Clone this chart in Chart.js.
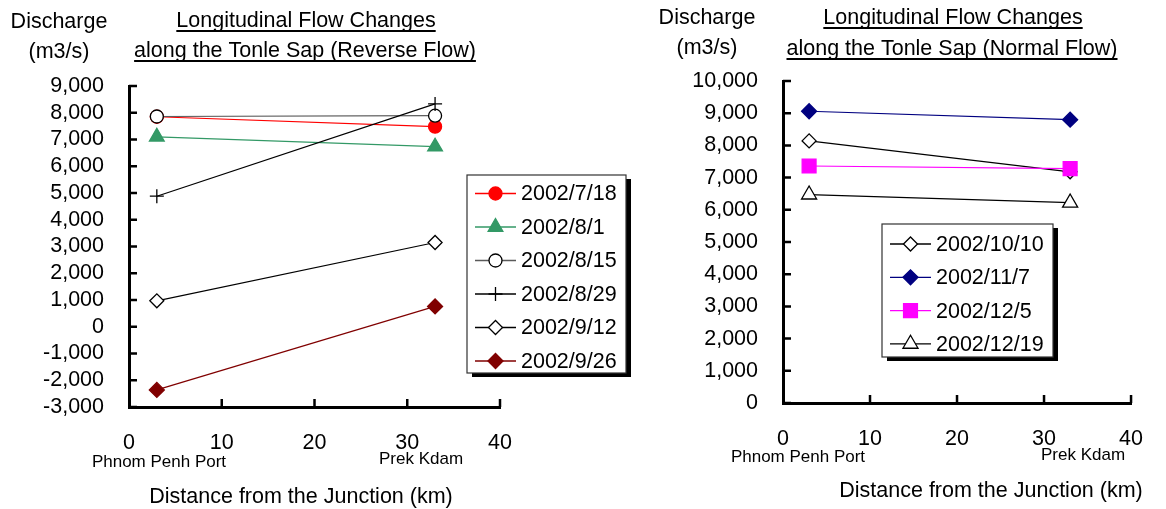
<!DOCTYPE html>
<html>
<head>
<meta charset="utf-8">
<script src="https://cdn.jsdelivr.net/npm/chart.js@4.4.1/dist/chart.umd.min.js"></script>
<style>
  body { margin: 0; background: #fff; width: 1166px; height: 509px; overflow: hidden; position: relative; }
  .panel { position: absolute; top: 0; height: 509px; }
  #leftPanel { left: 0; width: 640px; }
  #rightPanel { left: 640px; width: 526px; }
</style>
</head>
<body>
<div class="panel" id="leftPanel"><canvas id="reverseChart"></canvas></div>
<div class="panel" id="rightPanel"><canvas id="normalChart"></canvas></div>
<script>
// distance from the junction (km) of the two gauging stations
const distances = [3, 33];
const stationNames = ['Phnom Penh Port', 'Prek Kdam'];
const distanceTicks = [0, 10, 20, 30, 40];

// reverse flow season, discharge (m3/s)
const reverseDates = ['2002/7/18', '2002/8/1', '2002/8/15', '2002/8/29', '2002/9/12', '2002/9/26'];
const q0718 = [7850, 7480];
const q0801 = [7100, 6730];
const q0815 = [7860, 7890];
const q0829 = [4880, 8330];
const q0912 = [970, 3150];
const q0926 = [-2360, 760];
const reverseTicks = [-3000, -2000, -1000, 0, 1000, 2000, 3000, 4000, 5000, 6000, 7000, 8000, 9000];

// normal flow season, discharge (m3/s)
const normalDates = ['2002/10/10', '2002/11/7', '2002/12/5', '2002/12/19'];
const q1010 = [8140, 7180];
const q1107 = [9060, 8800];
const q1205 = [7360, 7280];
const q1219 = [6470, 6220];
const normalTicks = [0, 1000, 2000, 3000, 4000, 5000, 6000, 7000, 8000, 9000, 10000];

const FONT = 'Liberation Sans, Arial, Helvetica, sans-serif';

function series(label, values, color, style, radius, fill, lineColor, idx) {
  return {
    label: label,
    data: values.map((v, i) => ({ x: distances[i], y: v })),
    borderColor: lineColor || color,
    borderWidth: 1.2,
    pointStyle: style,
    pointRadius: radius,
    pointHoverRadius: radius,
    pointBackgroundColor: fill,
    pointBorderColor: color,
    pointBorderWidth: 1.3,
    order: -idx   // later series sit on top
  };
}

// underlined two-line title, y caption, station names, x caption
function textPlugin(cfg) {
  return {
    id: 'labels',
    afterDraw(chart) {
      const ctx = chart.ctx;
      ctx.save();
      ctx.fillStyle = '#000';
      ctx.textAlign = 'center';
      ctx.textBaseline = 'middle';
      ctx.font = '21.5px ' + FONT;
      ctx.fillText('Discharge', cfg.yCap[0], cfg.yCap[1]);
      ctx.fillText('(m3/s)', cfg.yCap[0], cfg.yCap[1] + 30);
      cfg.title.forEach((t, i) => {
        const x = cfg.titlePos[i][0], y = cfg.titlePos[i][1];
        ctx.fillText(t, x, y);
        const w = ctx.measureText(t).width;
        ctx.fillRect(x - w / 2, y + 9, w, 2);
      });
      ctx.fillText('Distance from the Junction (km)', cfg.xCap[0], cfg.xCap[1]);
      ctx.font = '17px ' + FONT;
      stationNames.forEach((s, i) => ctx.fillText(s, cfg.stations[i][0], cfg.stations[i][1]));

      // inward tick marks
      const xs = chart.scales.x, ys = chart.scales.y, area = chart.chartArea;
      ctx.strokeStyle = '#000';
      ctx.lineWidth = 2.5;
      ctx.beginPath();
      cfg.yTicks.forEach(v => {
        const py = ys.getPixelForValue(v);
        ctx.moveTo(area.left, py);
        ctx.lineTo(area.left + 8, py);
      });
      distanceTicks.slice(1).forEach(v => {
        const px = xs.getPixelForValue(v);
        ctx.moveTo(px, area.bottom);
        ctx.lineTo(px, area.bottom - 8);
      });
      ctx.stroke();

      // legend with drop shadow
      const b = cfg.legendBox;
      ctx.fillStyle = '#000';
      ctx.fillRect(b[0] + 5, b[1] + 4, b[2], b[3]);
      ctx.fillStyle = '#fff';
      ctx.fillRect(b[0], b[1], b[2], b[3]);
      ctx.lineWidth = 1.2;
      ctx.strokeStyle = '#333';
      ctx.strokeRect(b[0], b[1], b[2], b[3]);
      ctx.textAlign = 'left';
      ctx.font = '21.5px ' + FONT;
      chart.data.datasets.forEach((ds, i) => {
        const y = cfg.legendRow0 + i * cfg.legendStep;
        ctx.strokeStyle = ds.borderColor;
        ctx.lineWidth = 1.3;
        ctx.beginPath();
        ctx.moveTo(b[0] + cfg.legendLine[0], y);
        ctx.lineTo(b[0] + cfg.legendLine[1], y);
        ctx.stroke();
        ctx.fillStyle = ds.pointBackgroundColor;
        ctx.strokeStyle = ds.pointBorderColor;
        ctx.lineWidth = ds.pointBorderWidth;
        Chart.helpers.drawPoint(ctx, { pointStyle: ds.pointStyle, radius: ds.pointRadius, rotation: 0, borderWidth: ds.pointBorderWidth },
          b[0] + (cfg.legendLine[0] + cfg.legendLine[1]) / 2, y);
        ctx.fillStyle = '#000';
        ctx.fillText(ds.label, b[0] + cfg.legendText, y + 1);
      });
      ctx.restore();
    }
  };
}

function makeOptions(yMin, yMax, yTicks, yAxisWidth, xAxisHeight, padding) {
  return {
    responsive: false,
    animation: false,
    events: [],
    layout: { padding: padding },
    plugins: { legend: { display: false }, tooltip: { enabled: false } },
    scales: {
      x: {
        type: 'linear', min: 0, max: 40,
        afterBuildTicks: s => { s.ticks = distanceTicks.map(v => ({ value: v })); },
        afterFit: s => { s.height = xAxisHeight; },
        grid: { display: false, drawTicks: false },
        border: { display: true, color: '#000', width: 3 },
        ticks: { color: '#000', font: { family: FONT, size: 21.5 }, padding: 23, maxRotation: 0, autoSkip: false }
      },
      y: {
        type: 'linear', min: yMin, max: yMax,
        afterBuildTicks: s => { s.ticks = yTicks.map(v => ({ value: v })); },
        afterFit: s => { s.width = yAxisWidth; },
        grid: { display: false, drawTicks: false },
        border: { display: true, color: '#000', width: 3 },
        ticks: {
          color: '#000', font: { family: FONT, size: 21.5 }, padding: 25, autoSkip: false,
          callback: v => v.toLocaleString('en-US')
        }
      }
    }
  };
}

const reverseCanvas = document.getElementById('reverseChart');
reverseCanvas.width = 640; reverseCanvas.height = 509;
new Chart(reverseCanvas, {
  type: 'line',
  data: {
    datasets: [
      series(reverseDates[0], q0718, '#ff0000', 'circle', 6.5, '#ff0000', null, 0),
      series(reverseDates[1], q0801, '#339966', 'triangle', 8.5, '#339966', null, 1),
      series(reverseDates[2], q0815, '#000000', 'circle', 6.5, '#ffffff', '#5a5a5a', 2),
      series(reverseDates[3], q0829, '#000000', 'cross', 7, '#000000', null, 3),
      series(reverseDates[4], q0912, '#000000', 'rectRot', 7, '#ffffff', null, 4),
      series(reverseDates[5], q0926, '#800000', 'rectRot', 7.5, '#800000', null, 5)
    ]
  },
  options: makeOptions(-3000, 9000, reverseTicks, 129, 102, { top: 86, left: 0, right: 140, bottom: 0 }),
  plugins: [textPlugin({
    yCap: [59, 22],
    title: ['Longitudinal Flow Changes', 'along the Tonle Sap (Reverse Flow)'],
    titlePos: [[306, 21], [305, 51]],
    xCap: [301, 497],
    stations: [[159, 462], [421, 459]],
    yTicks: reverseTicks,
    legendBox: [467, 175, 159, 198],
    legendRow0: 193.5,
    legendStep: 33.5,
    legendLine: [8, 49],
    legendText: 54
  })]
});

const normalCanvas = document.getElementById('normalChart');
normalCanvas.width = 526; normalCanvas.height = 509;
new Chart(normalCanvas, {
  type: 'line',
  data: {
    datasets: [
      series(normalDates[0], q1010, '#000000', 'rectRot', 7, '#ffffff', null, 0),
      series(normalDates[1], q1107, '#000080', 'rectRot', 7.5, '#000080', null, 1),
      series(normalDates[2], q1205, '#ff00ff', 'rect', 9.8, '#ff00ff', null, 2),
      series(normalDates[3], q1219, '#000000', 'triangle', 8.7, '#ffffff', null, 3)
    ]
  },
  options: makeOptions(0, 10000, normalTicks, 143, 106, { top: 81, left: 0, right: 20, bottom: 0 }),
  plugins: [textPlugin({
    yCap: [67, 18],
    title: ['Longitudinal Flow Changes', 'along the Tonle Sap (Normal Flow)'],
    titlePos: [[313, 18], [312, 49]],
    xCap: [351, 491],
    stations: [[158, 457], [443, 455]],
    yTicks: normalTicks,
    legendBox: [242, 224, 171, 133],
    legendRow0: 244,
    legendStep: 33.3,
    legendLine: [8, 49],
    legendText: 54
  })]
});
</script>
</body>
</html>
